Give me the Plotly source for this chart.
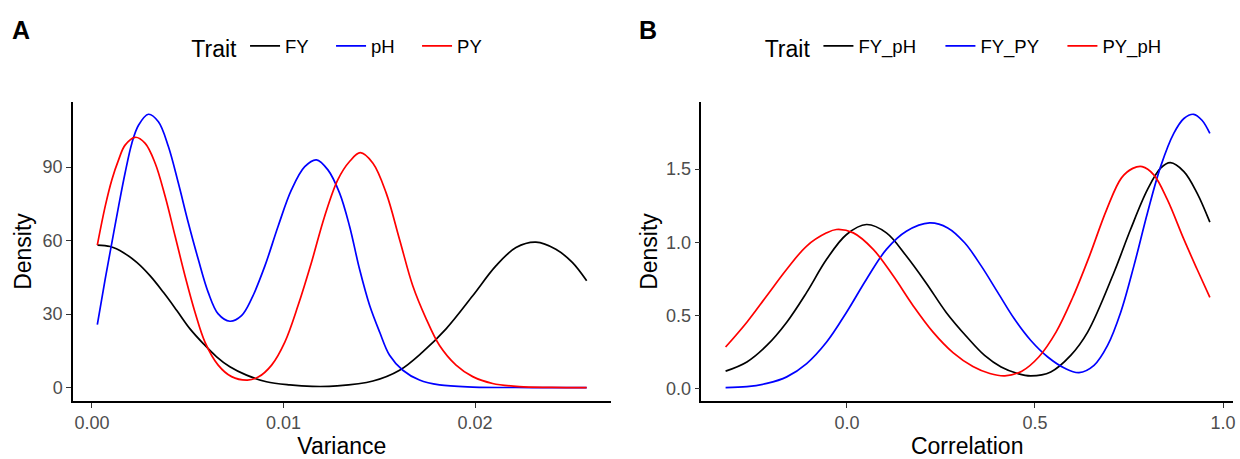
import plotly.graph_objects as go

# ---------------- Panel A: Variance densities ----------------
var_fy_x = [0.00029, 0.00095, 0.00165, 0.00234, 0.00304, 0.00373, 0.00443, 0.00512, 0.00581, 0.00651,
            0.0072, 0.00807, 0.00911, 0.01033, 0.0115, 0.0128, 0.01467, 0.01606, 0.01727, 0.01849,
            0.01988, 0.02109, 0.02214, 0.02318, 0.02422, 0.02508, 0.02583]
var_fy_y = [58.2, 57.6, 55.1, 51.1, 45.6, 38.9, 31.5, 24.0, 18.0, 12.6,
            8.5, 5.1, 2.4, 1.1, 0.5, 0.7, 2.7, 7.1, 14.6, 24.0,
            37.5, 49.7, 57.2, 59.4, 56.5, 51.1, 43.6]

var_ph_x = [0.00028, 0.00069, 0.00104, 0.00139, 0.00173, 0.00208, 0.00243, 0.00295, 0.00347, 0.00399,
            0.00451, 0.00503, 0.00555, 0.00607, 0.00659, 0.0072, 0.00781, 0.00833, 0.00903, 0.00972,
            0.01042, 0.01111, 0.01172, 0.01232, 0.01293, 0.01345, 0.01397, 0.0145, 0.01502, 0.01554,
            0.01623, 0.0171, 0.01814, 0.01988, 0.0230, 0.02583]
var_ph_y = [25.7, 44.3, 59.2, 74.0, 87.6, 99.7, 107.1, 111.6, 108.5, 98.4,
            83.5, 67.3, 52.4, 38.9, 30.1, 27.1, 29.4, 36.2, 49.7, 65.9,
            80.8, 90.2, 93.0, 88.9, 79.4, 65.9, 48.4, 33.5, 22.7, 13.2,
            7.1, 3.1, 1.1, 0.25, 0.05, 0.0]

var_py_x = [0.00028, 0.00069, 0.00104, 0.00139, 0.00173, 0.00226, 0.00278, 0.0033, 0.00382, 0.00434,
            0.00486, 0.00538, 0.0059, 0.00659, 0.00729, 0.00812, 0.00868, 0.00938, 0.01007, 0.01076,
            0.01146, 0.01215, 0.01284, 0.01345, 0.01401, 0.01467, 0.01536, 0.01606, 0.01675, 0.01745,
            0.01814, 0.01901, 0.01988, 0.02092, 0.02231, 0.0240, 0.02583]
var_py_y = [58.2, 74.0, 84.9, 93.0, 99.0, 102.2, 99.7, 91.6, 78.1, 61.9,
            45.6, 30.8, 18.6, 9.2, 4.5, 3.1, 4.3, 9.2, 18.6, 33.5,
            51.1, 70.0, 84.9, 92.3, 95.9, 91.6, 79.5, 60.5, 41.6, 28.1,
            17.3, 9.2, 4.5, 1.7, 0.4, 0.1, 0.0]

# ---------------- Panel B: Correlation densities ----------------
cor_fyph_x = [-0.3226, -0.266, -0.213, -0.160, -0.107, -0.054, -0.001, 0.052, 0.105,
              0.158, 0.211, 0.264, 0.3215, 0.366, 0.41, 0.454, 0.489, 0.542, 0.595, 0.640,
              0.710, 0.754, 0.799, 0.834, 0.860, 0.896, 0.931, 0.965]
cor_fyph_y = [0.118, 0.181, 0.294, 0.453, 0.657, 0.883, 1.053, 1.121, 1.064,
              0.906, 0.720, 0.520, 0.345, 0.226, 0.147, 0.102, 0.086, 0.113, 0.226, 0.385,
              0.793, 1.087, 1.359, 1.506, 1.544, 1.483, 1.336, 1.137]

cor_fypy_x = [-0.3226, -0.266, -0.213, -0.160, -0.107, -0.054, -0.001, 0.052, 0.105, 0.158,
              0.220, 0.268, 0.313, 0.357, 0.401, 0.445, 0.489, 0.534, 0.578, 0.617,
              0.657, 0.693, 0.728, 0.763, 0.799, 0.834, 0.869, 0.896, 0.922, 0.944,
              0.965]
cor_fypy_y = [0.005, 0.012, 0.034, 0.079, 0.170, 0.317, 0.521, 0.747, 0.951, 1.075,
              1.132, 1.098, 0.996, 0.838, 0.657, 0.476, 0.328, 0.215, 0.140, 0.108,
              0.158, 0.294, 0.521, 0.838, 1.200, 1.517, 1.744, 1.846, 1.875, 1.834,
              1.744]

cor_pyph_x = [-0.3226, -0.266, -0.213, -0.160, -0.107, -0.054, -0.028, 0.017, 0.070, 0.123,
              0.176, 0.229, 0.282, 0.335, 0.380, 0.420, 0.465, 0.510, 0.556, 0.600,
              0.644, 0.690, 0.730, 0.760, 0.785, 0.816, 0.852, 0.896, 0.931, 0.965]
cor_pyph_y = [0.283, 0.453, 0.634, 0.815, 0.974, 1.064, 1.087, 1.064, 0.951, 0.770,
              0.566, 0.385, 0.245, 0.150, 0.102, 0.086, 0.118, 0.215, 0.385, 0.620,
              0.900, 1.220, 1.440, 1.505, 1.517, 1.461, 1.291, 1.019, 0.815, 0.623]

var_ticks = [0.0, 0.01, 0.02]
var_ticktext = ["0.00", "0.01", "0.02"]
dens_a_ticks = [0, 30, 60, 90]
cor_ticks = [0.0, 0.5, 1.0]
cor_ticktext = ["0.0", "0.5", "1.0"]
dens_b_ticks = [0.0, 0.5, 1.0, 1.5]
dens_b_ticktext = ["0.0", "0.5", "1.0", "1.5"]

FONT = "Liberation Sans, Arial, sans-serif"
LW = 1.7
TICK_SIZE = 18
TITLE_SIZE = 23
LEG_SIZE = 18.5

fig = go.Figure()

series_a = [("FY", var_fy_x, var_fy_y, "#000000"),
            ("pH", var_ph_x, var_ph_y, "#0000FF"),
            ("PY", var_py_x, var_py_y, "#FF0000")]
for name, xs, ys, col in series_a:
    fig.add_trace(go.Scatter(x=xs, y=ys, mode="lines", name=name,
                             line=dict(color=col, width=LW, shape="spline", smoothing=1.0),
                             xaxis="x", yaxis="y", legend="legend"))

series_b = [("FY_pH", cor_fyph_x, cor_fyph_y, "#000000"),
            ("FY_PY", cor_fypy_x, cor_fypy_y, "#0000FF"),
            ("PY_pH", cor_pyph_x, cor_pyph_y, "#FF0000")]
for name, xs, ys, col in series_b:
    fig.add_trace(go.Scatter(x=xs, y=ys, mode="lines", name=name,
                             line=dict(color=col, width=LW, shape="spline", smoothing=1.0),
                             xaxis="x2", yaxis="y2", legend="legend2"))

axis_common = dict(showline=True, linecolor="black", linewidth=1.5, showgrid=False, zeroline=False,
                   ticks="outside", ticklen=5, tickwidth=1.1, tickcolor="#333333",
                   tickfont=dict(family=FONT, size=TICK_SIZE, color="#4D4D4D"),
                   mirror=False)

W, H = 1240, 459
ml, mr, mt, mb = 73, 4, 102, 56
pw = W - ml - mr
ph = H - mt - mb


def px_x(p):
    return (p - ml) / pw


def px_y(p):
    return (H - mb - p) / ph


legend_common = dict(orientation="h", xanchor="center", y=px_y(47), yanchor="middle",
                     font=dict(size=LEG_SIZE, family=FONT), bgcolor="rgba(0,0,0,0)",
                     traceorder="normal", itemwidth=30, entrywidthmode="pixels")

fig.update_layout(
    width=W, height=H,
    margin=dict(l=ml, r=mr, t=mt, b=mb),
    paper_bgcolor="white", plot_bgcolor="white",
    font=dict(family=FONT, color="black"),
    xaxis=dict(domain=[0, px_x(612)], range=[-0.00099, 0.02708], tickvals=var_ticks,
               ticktext=var_ticktext, anchor="y",
               title=dict(text="Variance", font=dict(size=TITLE_SIZE, color="black"), standoff=6),
               **axis_common),
    yaxis=dict(domain=[0, 1], range=[-5.45, 116.6], tickvals=dens_a_ticks, anchor="x",
               title=dict(text="Density", font=dict(size=TITLE_SIZE, color="black"), standoff=5),
               **axis_common),
    xaxis2=dict(domain=[px_x(703), 1.0], range=[-0.387, 1.0265], tickvals=cor_ticks,
                ticktext=cor_ticktext, anchor="y2",
                title=dict(text="Correlation", font=dict(size=TITLE_SIZE, color="black"), standoff=6),
                **axis_common),
    yaxis2=dict(domain=[0, 1], range=[-0.086, 1.959], tickvals=dens_b_ticks,
                ticktext=dens_b_ticktext, anchor="x2",
                title=dict(text="Density", font=dict(size=TITLE_SIZE, color="black"), standoff=2),
                **axis_common),
    legend=dict(x=px_x(347), entrywidth=41,
                title=dict(text="Trait", side="left", font=dict(size=TITLE_SIZE)),
                **legend_common),
    legend2=dict(x=px_x(976), entrywidth=77,
                 title=dict(text="Trait", side="left", font=dict(size=TITLE_SIZE)),
                 **legend_common),
    annotations=[
        dict(text="<b>A</b>", x=px_x(21), y=px_y(30), xref="paper", yref="paper",
             xanchor="center", yanchor="middle", showarrow=False,
             font=dict(size=25, family=FONT, color="black")),
        dict(text="<b>B</b>", x=px_x(649), y=px_y(30), xref="paper", yref="paper",
             xanchor="center", yanchor="middle", showarrow=False,
             font=dict(size=25, family=FONT, color="black")),
    ],
)

fig.write_html("out.html")
